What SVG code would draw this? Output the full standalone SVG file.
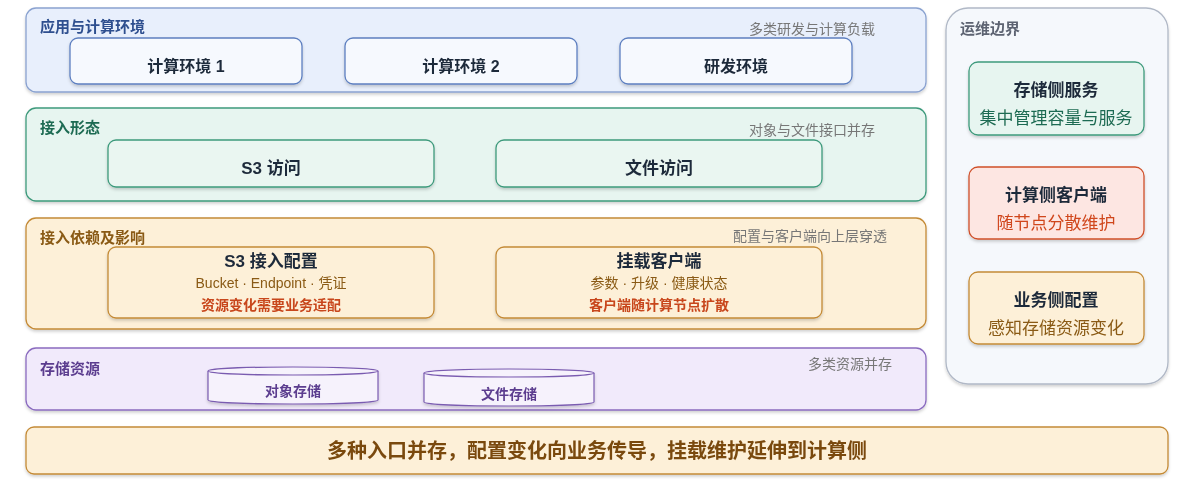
<svg xmlns="http://www.w3.org/2000/svg" width="1204" height="483" viewBox="0 0 1204 483">
<defs>
<filter id="sh" x="-5%" y="-5%" width="110%" height="120%"><feDropShadow dx="0" dy="2" stdDeviation="1.5" flood-color="#000" flood-opacity="0.18"/></filter>
</defs>
<style>
text{font-family:"Liberation Sans","Noto Sans CJK SC",sans-serif}
.t{font-size:15px;font-weight:bold}
.n{font-size:16px;font-weight:bold;fill:#1f2a3a;text-anchor:middle}
.r{font-size:14px;fill:#777;text-anchor:end}
.s{font-size:14px;text-anchor:middle}
.h{font-size:17px}
.d{font-size:17px}
.n.sum{font-size:20px;fill:#7a4a10}
</style>
<rect width="1204" height="483" fill="#fff"/>
<g id="layer-app" filter="url(#sh)">
<rect x="26" y="8" width="900" height="84" rx="10" fill="#e8effc" stroke="#8aa2d0" stroke-width="1.3"/>
<text x="40" y="32" class="t" fill="#2f4f8f">应用与计算环境</text>
<text x="875" y="34" class="r">多类研发与计算负载</text>
</g>
<g id="env1" filter="url(#sh)"><rect x="70" y="38" width="232" height="46" rx="8" fill="#f6f9fe" stroke="#5d7fc0" stroke-width="1.3"/><text x="186" y="72" class="n">计算环境 1</text></g>
<g id="env2" filter="url(#sh)"><rect x="345" y="38" width="232" height="46" rx="8" fill="#f6f9fe" stroke="#5d7fc0" stroke-width="1.3"/><text x="461" y="72" class="n">计算环境 2</text></g>
<g id="env3" filter="url(#sh)"><rect x="620" y="38" width="232" height="46" rx="8" fill="#f6f9fe" stroke="#5d7fc0" stroke-width="1.3"/><text x="736" y="72" class="n">研发环境</text></g>

<g id="layer-access" filter="url(#sh)">
<rect x="26" y="108" width="900" height="93" rx="10" fill="#e7f5f0" stroke="#3e9a7c" stroke-width="1.3"/>
<text x="40" y="133" class="t" fill="#1e6b52">接入形态</text>
<text x="875" y="135" class="r">对象与文件接口并存</text>
</g>
<g id="s3" filter="url(#sh)"><rect x="108" y="140" width="326" height="47" rx="8" fill="#eaf6f1" stroke="#3e9a7c" stroke-width="1.3"/><text x="271" y="174" class="n h">S3 访问</text></g>
<g id="file" filter="url(#sh)"><rect x="496" y="140" width="326" height="47" rx="8" fill="#eaf6f1" stroke="#3e9a7c" stroke-width="1.3"/><text x="659" y="174" class="n h">文件访问</text></g>

<g id="layer-dep" filter="url(#sh)">
<rect x="26" y="218" width="900" height="111" rx="10" fill="#fdf0d8" stroke="#c48a36" stroke-width="1.3"/>
<text x="40" y="243" class="t" fill="#8a5a14">接入依赖及影响</text>
<text x="887" y="241" class="r">配置与客户端向上层穿透</text>
</g>
<g id="s3cfg" filter="url(#sh)"><rect x="108" y="247" width="326" height="71" rx="8" fill="#fdf0d8" stroke="#c48a36" stroke-width="1.3"/>
<text x="271" y="267" class="n h">S3 接入配置</text>
<text x="271" y="288" class="s" fill="#8a5a14">Bucket · Endpoint · 凭证</text>
<text x="271" y="310" class="s" font-weight="bold" fill="#c8461c">资源变化需要业务适配</text></g>
<g id="mount" filter="url(#sh)"><rect x="496" y="247" width="326" height="71" rx="8" fill="#fdf0d8" stroke="#c48a36" stroke-width="1.3"/>
<text x="659" y="267" class="n h">挂载客户端</text>
<text x="659" y="288" class="s" fill="#8a5a14">参数 · 升级 · 健康状态</text>
<text x="659" y="310" class="s" font-weight="bold" fill="#c8461c">客户端随计算节点扩散</text></g>

<g id="layer-storage" filter="url(#sh)">
<rect x="26" y="348" width="900" height="62" rx="10" fill="#f1eafb" stroke="#8a6bbf" stroke-width="1.3"/>
<text x="40" y="374" class="t" fill="#5b3d8f">存储资源</text>
<text x="892" y="369" class="r">多类资源并存</text>
</g>
<g id="obj" filter="url(#sh)"><path d="M208,371 v29 a85,4 0 0 0 170,0 v-29" fill="#f6f2fc" stroke="#7a5bb0" stroke-width="1.2"/><ellipse cx="293" cy="371" rx="85" ry="4" fill="#f6f2fc" stroke="#7a5bb0" stroke-width="1.2"/><text x="293" y="396" class="s" font-weight="bold" fill="#5b3d8f">对象存储</text></g>
<g id="fs" filter="url(#sh)"><path d="M424,373 v29 a85,4 0 0 0 170,0 v-29" fill="#f6f2fc" stroke="#7a5bb0" stroke-width="1.2"/><ellipse cx="509" cy="373" rx="85" ry="4" fill="#f6f2fc" stroke="#7a5bb0" stroke-width="1.2"/><text x="509" y="399" class="s" font-weight="bold" fill="#5b3d8f">文件存储</text></g>

<g id="ops" filter="url(#sh)">
<rect x="946" y="8" width="222" height="376" rx="22" fill="#f5f8fc" stroke="#b0b8c6" stroke-width="1.3"/>
<text x="960" y="34" class="t" fill="#5d6472">运维边界</text>
</g>
<g id="ops1" filter="url(#sh)"><rect x="969" y="62" width="175" height="73" rx="9" fill="#e7f5f0" stroke="#3e9a7c" stroke-width="1.3"/><text x="1056" y="96" class="n h">存储侧服务</text><text x="1056" y="124" class="s d" fill="#1e6b52">集中管理容量与服务</text></g>
<g id="ops2" filter="url(#sh)"><rect x="969" y="167" width="175" height="72" rx="9" fill="#fde6e2" stroke="#d0502a" stroke-width="1.3"/><text x="1056" y="201" class="n h">计算侧客户端</text><text x="1056" y="229" class="s d" fill="#d0461c">随节点分散维护</text></g>
<g id="ops3" filter="url(#sh)"><rect x="969" y="272" width="175" height="72" rx="9" fill="#fdf0d8" stroke="#c48a36" stroke-width="1.3"/><text x="1056" y="306" class="n h">业务侧配置</text><text x="1056" y="334" class="s d" fill="#8a5a14">感知存储资源变化</text></g>

<g id="summary" filter="url(#sh)">
<rect x="26" y="427" width="1142" height="47" rx="8" fill="#fdf0d8" stroke="#c48a36" stroke-width="1.3"/>
<text x="597" y="458" class="n sum">多种入口并存，配置变化向业务传导，挂载维护延伸到计算侧</text>
</g>
<g id="connectors"/>
</svg>
